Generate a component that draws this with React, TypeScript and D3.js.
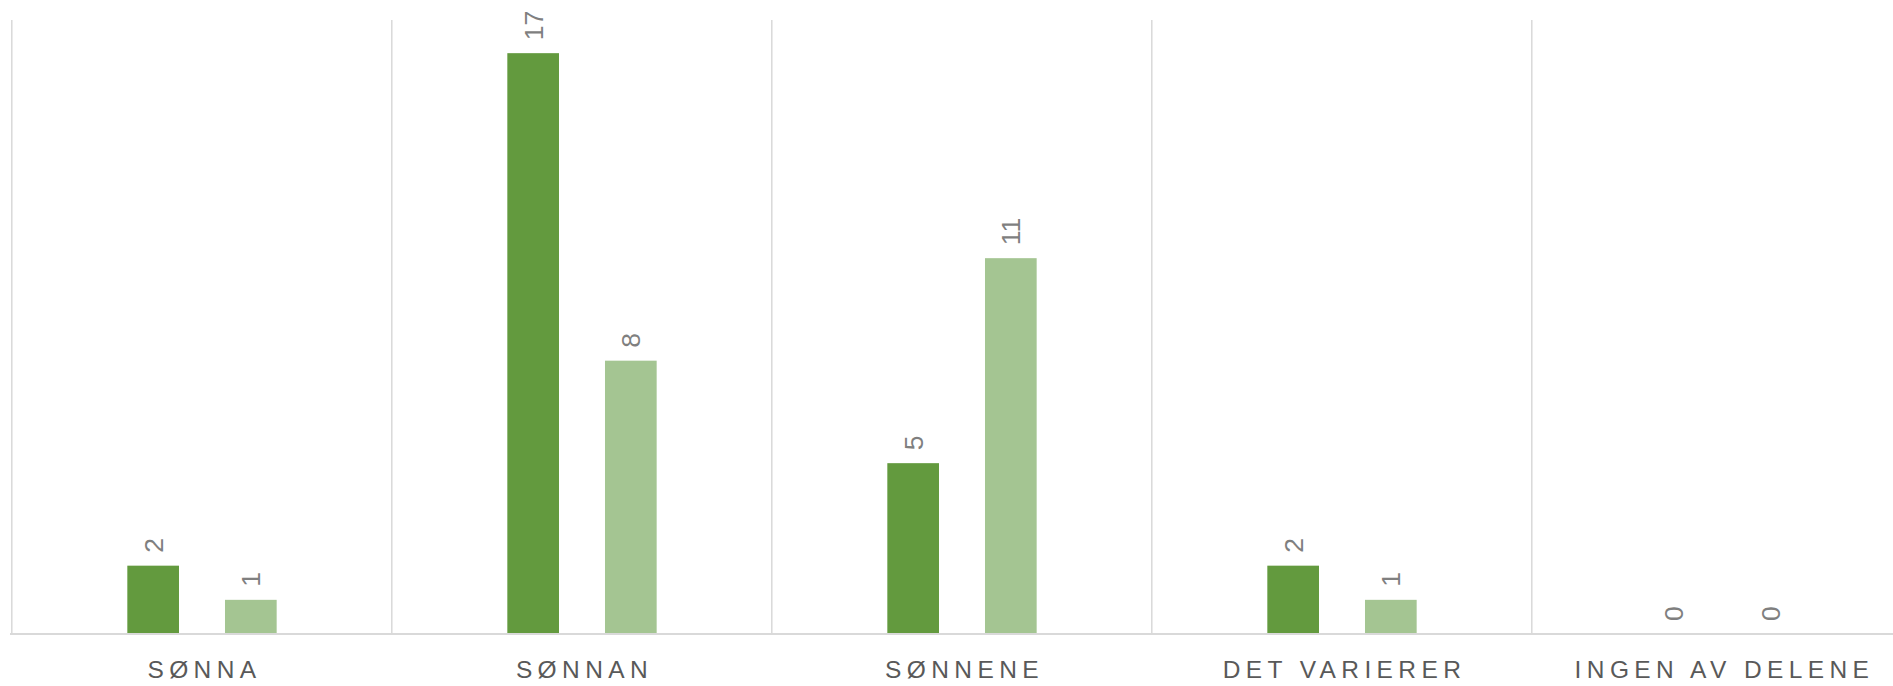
import React from "react";
import * as d3 from "d3";

const categories = ["SØNNA", "SØNNAN", "SØNNENE", "DET VARIERER", "INGEN AV DELENE"];
const seriesNames = ["Serie 1", "Serie 2"];
const series1 = [2, 17, 5, 2, 0];
const series2 = [1, 8, 11, 1, 0];
const seriesColors = ["#639a3e", "#a4c592"];
const yMax = 18;

const W = 1893;
const H = 686;
const plotLeft = 11.8;
const plotRight = 1911.8;
const plotTop = 19;
const plotBottom = 634;

export default function App() {
  const x0 = d3.scaleBand<string>().domain(categories).range([plotLeft, plotRight]).padding(0);
  const bw = x0.bandwidth();
  const x1 = d3
    .scaleBand<string>()
    .domain(seriesNames)
    .range([bw * 0.304, bw * 0.697])
    .paddingInner(0.471)
    .paddingOuter(0);
  const y = d3.scaleLinear().domain([0, yMax]).range([plotBottom, plotTop]);
  const values = [series1, series2];
  const gridXs = categories.map((c) => x0(c)!);
  const font = "'Liberation Sans', Arial, sans-serif";
  const ls = 5.4;

  return (
    <svg
      width={W}
      height={H}
      style={{ position: "absolute", left: 0, top: 0, background: "#fff" }}
      xmlns="http://www.w3.org/2000/svg"
    >
      {gridXs.map((gx, i) => (
        <line key={"g" + i} x1={gx} x2={gx} y1={20} y2={plotBottom} stroke="#d9d9d9" strokeWidth={1.5} />
      ))}
      {categories.map((c, ci) =>
        seriesNames.map((s, si) => {
          const v = values[si][ci];
          const bx = x0(c)! + x1(s)!;
          return (
            <rect
              key={c + s}
              x={bx}
              y={y(v)}
              width={x1.bandwidth()}
              height={plotBottom - y(v)}
              fill={seriesColors[si]}
            />
          );
        })
      )}
      <line x1={10} x2={W} y1={plotBottom} y2={plotBottom} stroke="#d9d9d9" strokeWidth={2} />
      {categories.map((c, ci) =>
        seriesNames.map((s, si) => {
          const v = values[si][ci];
          const cx = x0(c)! + x1(s)! + x1.bandwidth() / 2;
          const ty = y(v) - 13;
          return (
            <text
              key={"l" + c + s}
              transform={`translate(${cx},${ty}) rotate(-90)`}
              dy="0.36em"
              textAnchor="start"
              fontFamily={font}
              fontSize={26.5}
              fill="#7f7f7f"
            >
              {v}
            </text>
          );
        })
      )}
      {categories.map((c) => (
        <text
          key={"c" + c}
          x={x0(c)! + bw / 2 + ls / 2}
          y={678}
          textAnchor="middle"
          fontFamily={font}
          fontSize={24.5}
          letterSpacing={ls}
          fill="#595959"
        >
          {c}
        </text>
      ))}
    </svg>
  );
}
